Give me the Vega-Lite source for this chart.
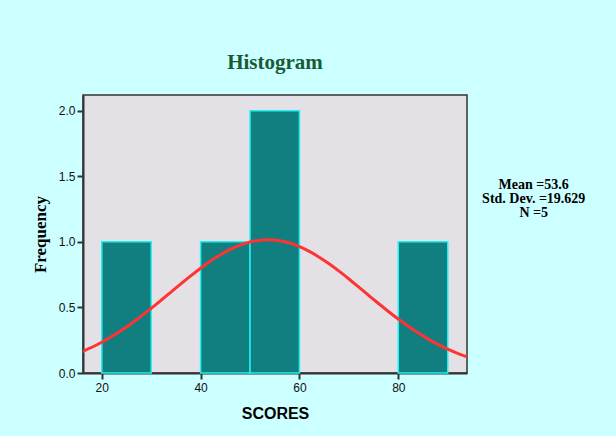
{
  "$schema": "https://vega.github.io/schema/vega-lite/v6.json",
  "autosize": {"type": "none"},
  "width": 384,
  "height": 278,
  "padding": {"left": 83, "top": 95, "right": 149, "bottom": 63},
  "background": "#CCFFFF",
  "title": {
    "text": "Histogram",
    "font": "Liberation Serif",
    "fontSize": 21,
    "fontWeight": "bold",
    "color": "#175a36",
    "anchor": "middle",
    "offset": 22
  },
  "config": {
    "view": {"fill": "#E3E1E6", "stroke": "#333333", "strokeWidth": 1.5},
    "axis": {
      "domainColor": "#333333",
      "domainWidth": 2,
      "tickColor": "#333333",
      "tickWidth": 2,
      "tickSize": 6,
      "labelFont": "Liberation Sans",
      "labelFontSize": 12,
      "labelColor": "#111111",
      "grid": false
    }
  },
  "datasets": {
    "bins": [
      {"start": 20, "end": 30, "count": 1},
      {"start": 40, "end": 50, "count": 1},
      {"start": 50, "end": 60, "count": 2},
      {"start": 80, "end": 90, "count": 1}
    ],
    "curve": [
      {"x": 16, "y": 0.1623}, {"x": 18, "y": 0.1962}, {"x": 20, "y": 0.2349},
      {"x": 22, "y": 0.2781}, {"x": 24, "y": 0.326}, {"x": 26, "y": 0.3782},
      {"x": 28, "y": 0.4341}, {"x": 30, "y": 0.4933}, {"x": 32, "y": 0.5548},
      {"x": 34, "y": 0.6174}, {"x": 36, "y": 0.6798}, {"x": 38, "y": 0.741},
      {"x": 40, "y": 0.7994}, {"x": 42, "y": 0.8534}, {"x": 44, "y": 0.9017},
      {"x": 46, "y": 0.9429}, {"x": 48, "y": 0.9757}, {"x": 50, "y": 0.9993},
      {"x": 52, "y": 1.0128}, {"x": 53.6, "y": 1.0162}, {"x": 56, "y": 1.0086},
      {"x": 58, "y": 0.991}, {"x": 60, "y": 0.9636}, {"x": 62, "y": 0.9273},
      {"x": 64, "y": 0.8831}, {"x": 66, "y": 0.8324}, {"x": 68, "y": 0.7765},
      {"x": 70, "y": 0.7168}, {"x": 72, "y": 0.6549}, {"x": 74, "y": 0.5922},
      {"x": 76, "y": 0.5299}, {"x": 78, "y": 0.4693}, {"x": 80, "y": 0.4114},
      {"x": 82, "y": 0.3568}, {"x": 84, "y": 0.3063}, {"x": 86, "y": 0.2602},
      {"x": 88, "y": 0.2188}, {"x": 90, "y": 0.1821}, {"x": 92, "y": 0.15},
      {"x": 94, "y": 0.1223}
    ]
  },
  "layer": [
    {
      "data": {"name": "bins"},
      "mark": {"type": "rect", "fill": "#117f80", "stroke": "#22f0f0", "strokeWidth": 1.5},
      "encoding": {
        "x": {
          "field": "start", "type": "quantitative",
          "scale": {"domain": [16.2, 93.9], "nice": false, "zero": false},
          "axis": {
            "values": [20, 40, 60, 80],
            "title": "SCORES",
            "titleFont": "Liberation Sans",
            "titleFontSize": 16,
            "titleFontWeight": "bold",
            "titleColor": "#000000",
            "titlePadding": 12,
            "labelPadding": 3
          }
        },
        "x2": {"field": "end"},
        "y": {
          "field": "count", "type": "quantitative",
          "scale": {"domain": [0, 2.12], "nice": false},
          "axis": {
            "values": [0, 0.5, 1, 1.5, 2],
            "format": ".1f",
            "title": "Frequency",
            "titleFont": "Liberation Serif",
            "titleFontSize": 17,
            "titleFontWeight": "bold",
            "titleColor": "#000000",
            "titlePadding": 9,
            "labelPadding": 2
          }
        },
        "y2": {"datum": 0}
      }
    },
    {
      "data": {"name": "curve"},
      "mark": {"type": "line", "color": "#ff3333", "strokeWidth": 3, "clip": true, "interpolate": "monotone"},
      "encoding": {
        "x": {"field": "x", "type": "quantitative"},
        "y": {"field": "y", "type": "quantitative"}
      }
    },
    {
      "data": {"values": [{"t": 1}]},
      "mark": {
        "type": "text",
        "text": ["Mean =53.6", "Std. Dev. =19.629", "N =5"],
        "font": "Liberation Serif",
        "fontSize": 14,
        "fontWeight": "bold",
        "lineHeight": 14,
        "align": "center",
        "baseline": "top",
        "color": "#000000"
      },
      "encoding": {
        "x": {"datum": 107.4},
        "y": {"datum": 1.49}
      }
    }
  ]
}
